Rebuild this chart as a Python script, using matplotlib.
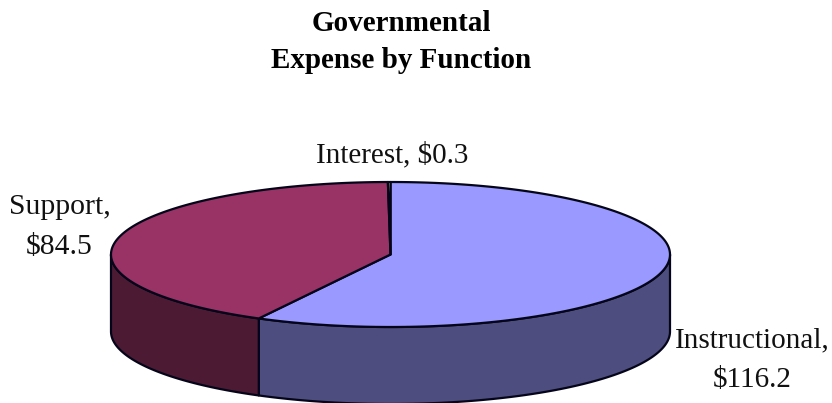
import matplotlib
matplotlib.use('Agg')
import matplotlib.pyplot as plt
import numpy as np

categories = ['Instructional', 'Support', 'Interest']
values = [116.2, 84.5, 0.3]
top_colors = ['#9999FF', '#993366', '#FFFFCC']
side_colors = ['#4D4D80', '#4D1A33', '#808066']

# ellipse geometry of the pie, in pixels
CX, CY = 390.5, 254.5
RX, RY = 279.5, 72.5
DEPTH = 77
EDGE = '#05051A'
LW = 1.6


def rim(a0, a1):
    """ Points on the top ellipse, angles clockwise from 12 o'clock """
    t = np.radians(np.linspace(a0, a1, max(int(abs(a1 - a0)) * 2, 2)))
    return CX + RX * np.sin(t), CY - RY * np.cos(t)


plt.rcParams['font.family'] = ['Liberation Serif', 'DejaVu Serif']

fig = plt.figure(figsize=(8.32, 4.03), dpi=100)
ax = fig.add_axes([0, 0, 1, 1])
ax.set_xlim(0, 832)
ax.set_ylim(403, 0)
ax.axis('off')

edges = np.cumsum([0] + values) / sum(values) * 360

# side walls only show on the front half
for i in range(len(values)):
    a0 = max(edges[i], 90)
    a1 = min(edges[i + 1], 270)
    if a1 <= a0:
        continue
    x, y = rim(a0, a1)
    ax.fill(np.r_[x, x[::-1]], np.r_[y, y[::-1] + DEPTH], fc=side_colors[i],
            ec=EDGE, lw=LW, joinstyle='round')

# top faces
for i in range(len(values)):
    x, y = rim(edges[i], edges[i + 1])
    ax.fill(np.r_[CX, x], np.r_[CY, y], fc=top_colors[i], ec=EDGE, lw=LW, joinstyle='round')

ax.text(401.5, 42, 'Governmental\nExpense by Function', ha='center', va='center',
        fontsize=21, fontweight='bold', color='black', linespacing=1.45)
ax.text(392, 155, 'Interest, \\$%.1f' % values[2], ha='center', va='center', fontsize=21, color='#111111')
ax.text(59.5, 227, 'Support,\n\\$%.1f' % values[1], ha='center', va='center', fontsize=21.3,
        color='#111111', linespacing=1.68)
ax.text(752, 360.5, 'Instructional,\n\\$%.1f' % values[0], ha='center', va='center', fontsize=21,
        color='#111111', linespacing=1.68)

fig.savefig('out.png', dpi=100)
plt.close(fig)
